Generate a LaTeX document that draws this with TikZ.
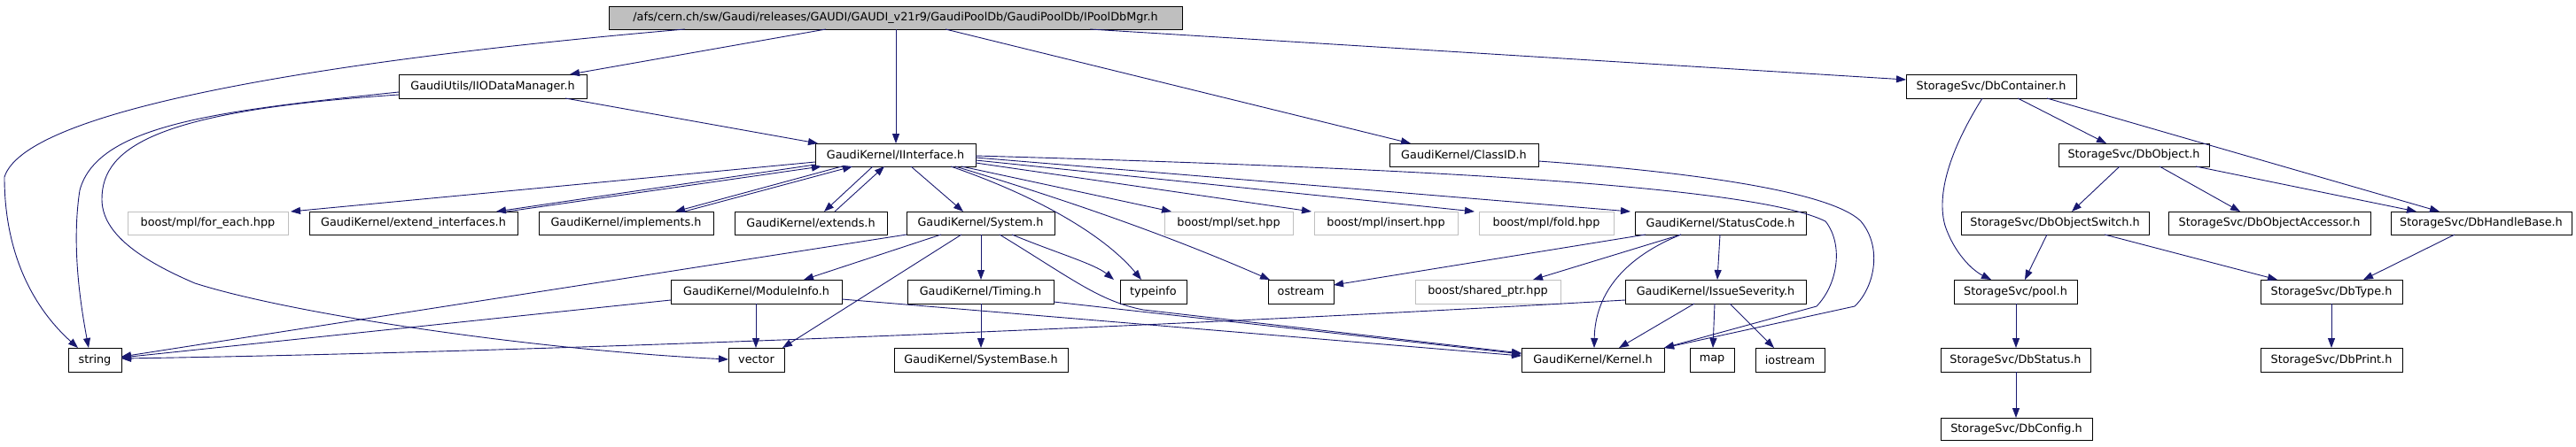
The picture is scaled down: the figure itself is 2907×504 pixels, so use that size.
\documentclass[tikz,border=0pt]{standalone}
\usepackage{fontspec}
\setmainfont{DejaVu Sans}
\usetikzlibrary{arrows.meta}
\definecolor{edgec}{HTML}{191970}
\definecolor{grayfill}{HTML}{BFBFBF}
\definecolor{grayline}{HTML}{BFBFBF}
\newcommand\bx[7][box]{\node[#1, minimum width={(#5-#3)*1pt}, minimum height={(#6-#4)*1pt}] (#2) at ({(#3+#5)/2},{(#4+#6)/2}) {#7};}
\begin{document}
\begin{tikzpicture}[x=1pt,y=-1pt,
  box/.style={draw=black, line width=0.8pt, inner sep=0pt, outer sep=0pt, font=\fontsize{12.8}{15}\selectfont},
  graybox/.style={box, draw=grayline},
  rootbox/.style={box, fill=grayfill},
  e/.style={draw=edgec, line width=0.9pt, -{Triangle[length=11pt,width=8pt]}}]
\fill[white] (0,0) rectangle (2907,504);
\useasboundingbox (0,0) rectangle (2907,504);
% nodes
\bx[rootbox]{root}{687}{7}{1334}{33}{/afs/cern.ch/sw/Gaudi/releases/GAUDI/GAUDI\_v21r9/GaudiPoolDb/GaudiPoolDb/IPoolDbMgr.h}
\bx{iio}{450}{84}{662}{111}{GaudiUtils/IIODataManager.h}
\bx{dbcont}{2151}{84}{2343}{111}{StorageSvc/DbContainer.h}
\bx{iint}{920}{162}{1101}{188}{GaudiKernel/IInterface.h}
\bx{classid}{1568}{162}{1736}{188}{GaudiKernel/ClassID.h}
\bx{dbobj}{2323}{162}{2493}{188}{StorageSvc/DbObject.h}
\bx[graybox]{foreach}{144}{239}{325}{265}{boost/mpl/for\_each.hpp}
\bx{extif}{349}{239}{584}{265}{GaudiKernel/extend\_interfaces.h}
\bx{impl}{608}{239}{805}{265}{GaudiKernel/implements.h}
\bx{extends}{829}{239}{1001}{265}{GaudiKernel/extends.h}
\bx{system}{1023}{239}{1190}{265}{GaudiKernel/System.h}
\bx[graybox]{set}{1314}{239}{1459}{265}{boost/mpl/set.hpp}
\bx[graybox]{insert}{1483}{239}{1645}{265}{boost/mpl/insert.hpp}
\bx[graybox]{fold}{1669}{239}{1821}{265}{boost/mpl/fold.hpp}
\bx{status}{1845}{239}{2038}{265}{GaudiKernel/StatusCode.h}
\bx{dbswitch}{2213}{239}{2425}{265}{StorageSvc/DbObjectSwitch.h}
\bx{dbacc}{2447}{239}{2675}{265}{StorageSvc/DbObjectAccessor.h}
\bx{dbhandle}{2698}{239}{2902}{265}{StorageSvc/DbHandleBase.h}
\bx{modinfo}{757}{316}{950}{343}{GaudiKernel/ModuleInfo.h}
\bx{timing}{1024}{316}{1189}{343}{GaudiKernel/Timing.h}
\bx{typeinfo}{1264}{316}{1339}{343}{typeinfo}
\bx{ostream}{1431}{316}{1505}{343}{ostream}
\bx[graybox]{shptr}{1597}{316}{1761}{343}{boost/shared\_ptr.hpp}
\bx{issue}{1834}{316}{2038}{343}{GaudiKernel/IssueSeverity.h}
\bx{pool}{2205}{316}{2344}{343}{StorageSvc/pool.h}
\bx{dbtype}{2551}{316}{2711}{343}{StorageSvc/DbType.h}
\bx{string}{77}{393}{137}{420}{string}
\bx{vector}{822}{393}{885}{420}{vector}
\bx{sysbase}{1009}{393}{1205}{420}{GaudiKernel/SystemBase.h}
\bx{kernel}{1717}{393}{1878}{420}{GaudiKernel/Kernel.h}
\bx{map}{1907}{393}{1957}{420}{map}
\bx{iostream}{1981}{393}{2059}{420}{iostream}
\bx{dbstatus}{2190}{393}{2359}{420}{StorageSvc/DbStatus.h}
\bx{dbprint}{2551}{393}{2711}{420}{StorageSvc/DbPrint.h}
\bx{dbconfig}{2190}{472}{2361}{497}{StorageSvc/DbConfig.h}
% edges from root
\draw[e] (773,0 |- root.south) .. controls (400,65) and (30,120) .. (5,200) .. controls (5,290) and (40,350) .. (88,0 |- string.north);
\draw[e] (932,0 |- root.south) -- (643,0 |- iio.north);
\draw[e] (1011,0 |- root.south) -- (1011,0 |- iint.north);
\draw[e] (1067,0 |- root.south) -- (1592,0 |- classid.north);
\draw[e] (1230,0 |- root.south) -- (dbcont.west |- 0,90);
% IIODataManager
\draw[e] (638,0 |- iio.south) -- (923,0 |- iint.north);
\draw[e] (iio.west |- 0,104) .. controls (250,125) and (110,140) .. (90,215) .. controls (80,280) and (92,350) .. (100,0 |- string.north);
\draw[e] (iio.west |- 0,107) .. controls (180,125) and (115,165) .. (115,225) .. controls (115,260) and (150,290) .. (220,320) .. controls (330,355) and (600,395) .. (vector.west |- 0,406);
% IInterface
\draw[e] (iint.west |- 0,183) -- (328,0 |- foreach.north);
\draw[e] (iint.west |- 0,186) -- (560,0 |- extif.north);
\draw[e] (572,0 |- extif.north) -- (927,0 |- iint.south);
\draw[e] (950,0 |- iint.south) -- (762,0 |- impl.north);
\draw[e] (772,0 |- impl.north) -- (962,0 |- iint.south);
\draw[e] (985,0 |- iint.south) -- (930,0 |- extends.north);
\draw[e] (942,0 |- extends.north) -- (998,0 |- iint.south);
\draw[e] (1028,0 |- iint.south) -- (1087,0 |- system.north);
\draw[e] (1073,0 |- iint.south) .. controls (1180,225) and (1250,270) .. (1288,0 |- typeinfo.north);
\draw[e] (1078,0 |- iint.south) .. controls (1250,240) and (1350,280) .. (1433,0 |- ostream.north);
\draw[e] (1085,0 |- iint.south) -- (1322,0 |- set.north);
\draw[e] (iint.east |- 0,184) -- (1480,0 |- insert.north);
\draw[e] (iint.east |- 0,181) -- (1664,0 |- fold.north);
\draw[e] (iint.east |- 0,178) -- (1840,0 |- status.north);
\draw[e] (iint.east |- 0,176) .. controls (1600,190) and (1980,210) .. (2060,250) .. controls (2080,275) and (2075,320) .. (2050,346) -- (kernel.north east);
% ClassID
\draw[e] (classid.east |- 0,182) .. controls (1850,190) and (2060,210) .. (2100,250) .. controls (2125,280) and (2115,325) .. (2093,346) -- (kernel.north east);
% System
\draw[e] (system.south west) -- (string.east |- 0,403);
\draw[e] (1085,0 |- system.south) -- (883,0 |- vector.north);
\draw[e] (1062,0 |- system.south) -- (907,0 |- modinfo.north);
\draw[e] (1107,0 |- system.south) -- (1107,0 |- timing.north);
\draw[e] (1142,0 |- system.south) .. controls (1190,285) and (1235,298) .. (1257,0 |- typeinfo.north);
\draw[e] (1128,0 |- system.south) .. controls (1210,315) and (1240,340) .. (1290,350) -- (kernel.west |- 0,399);
% ModuleInfo, Timing
\draw[e] (timing.east |- 0,341) -- (kernel.west |- 0,400);
\draw[e] (modinfo.east |- 0,338) -- (kernel.west |- 0,402);
\draw[e] (modinfo.west |- 0,339) -- (string.east |- 0,404);
\draw[e] (853,0 |- modinfo.south) -- (853,0 |- vector.north);
\draw[e] (1107,0 |- timing.south) -- (1107,0 |- sysbase.north);
% StatusCode
\draw[e] (1857,0 |- status.south) -- (ostream.east |- 0,322);
\draw[e] (1897,0 |- status.south) -- (1730,0 |- shptr.north);
\draw[e] (1897,0 |- status.south) .. controls (1835,290) and (1800,330) .. (1799,0 |- kernel.north);
\draw[e] (1941,0 |- status.south) -- (1938,0 |- issue.north);
% IssueSeverity
\draw[e] (issue.west |- 0,339) .. controls (1300,370) and (600,398) .. (string.east |- 0,405);
\draw[e] (1912,0 |- issue.south) -- (1827,0 |- kernel.north);
\draw[e] (1935,0 |- issue.south) -- (1933,0 |- map.north);
\draw[e] (1952,0 |- issue.south) -- (2002,0 |- iostream.north);
% StorageSvc
\draw[e] (2237,0 |- dbcont.south) .. controls (2200,170) and (2185,220) .. (2195,255) .. controls (2205,285) and (2225,305) .. (2247,0 |- pool.north);
\draw[e] (2277,0 |- dbcont.south) -- (2377,0 |- dbobj.north);
\draw[e] (2310,0 |- dbcont.south) -- (2753,0 |- dbhandle.north);
\draw[e] (2392,0 |- dbobj.south) -- (2338,0 |- dbswitch.north);
\draw[e] (2437,0 |- dbobj.south) -- (2528,0 |- dbacc.north);
\draw[e] (2478,0 |- dbobj.south) -- (2727,0 |- dbhandle.north);
\draw[e] (2310,0 |- dbswitch.south) -- (2285,0 |- pool.north);
\draw[e] (2375,0 |- dbswitch.south) -- (2570,0 |- dbtype.north);
\draw[e] (2770,0 |- dbhandle.south) -- (2667,0 |- dbtype.north);
\draw[e] (2631,0 |- dbtype.south) -- (2631,0 |- dbprint.north);
\draw[e] (2275,0 |- pool.south) -- (2275,0 |- dbstatus.north);
\draw[e] (2275,0 |- dbstatus.south) -- (2275,0 |- dbconfig.north);
\end{tikzpicture}
\end{document}
